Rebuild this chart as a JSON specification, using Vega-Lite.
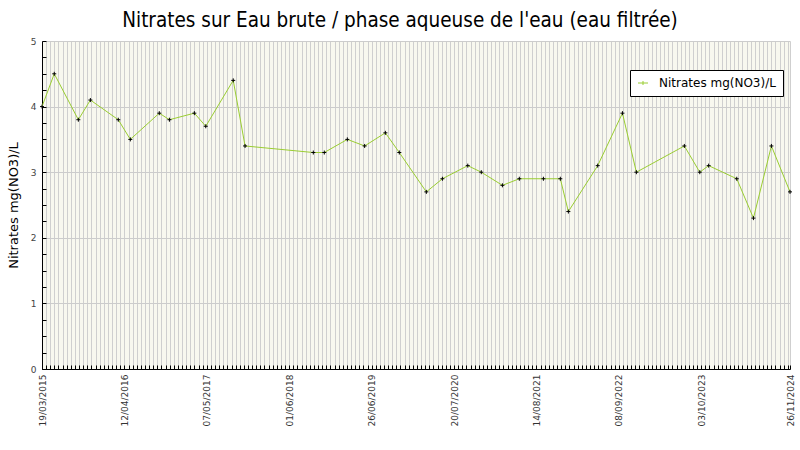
{
  "$schema": "https://vega.github.io/schema/vega-lite/v6.json",
  "width": 748,
  "height": 328,
  "autosize": {"type": "none"},
  "padding": {"left": 42, "top": 41, "right": 10, "bottom": 81},
  "background": "white",
  "title": {"text": "Nitrates sur Eau brute / phase aqueuse de l'eau (eau filtrée)", "font": "DejaVu Sans Condensed, DejaVu Sans", "fontSize": 20.5, "fontWeight": "normal", "color": "black", "anchor": "middle", "frame": "group", "dx": -16, "offset": 6},
  "data": {"values": [
    {"date": "2015-03-19", "value": 4.0},
    {"date": "2015-05-16", "value": 4.5},
    {"date": "2015-09-07", "value": 3.8},
    {"date": "2015-11-03", "value": 4.1},
    {"date": "2016-03-14", "value": 3.8},
    {"date": "2016-05-10", "value": 3.5},
    {"date": "2016-09-24", "value": 3.9},
    {"date": "2016-11-11", "value": 3.8},
    {"date": "2017-03-09", "value": 3.9},
    {"date": "2017-05-02", "value": 3.7},
    {"date": "2017-09-09", "value": 4.4},
    {"date": "2017-11-04", "value": 3.4},
    {"date": "2018-09-23", "value": 3.3},
    {"date": "2018-11-14", "value": 3.3},
    {"date": "2019-03-03", "value": 3.5},
    {"date": "2019-05-24", "value": 3.4},
    {"date": "2019-08-30", "value": 3.6},
    {"date": "2019-11-04", "value": 3.3},
    {"date": "2020-03-11", "value": 2.7},
    {"date": "2020-05-26", "value": 2.9},
    {"date": "2020-09-23", "value": 3.1},
    {"date": "2020-11-26", "value": 3.0},
    {"date": "2021-03-06", "value": 2.8},
    {"date": "2021-05-25", "value": 2.9},
    {"date": "2021-09-16", "value": 2.9},
    {"date": "2021-12-05", "value": 2.9},
    {"date": "2022-01-12", "value": 2.4},
    {"date": "2022-05-31", "value": 3.1},
    {"date": "2022-09-25", "value": 3.9},
    {"date": "2022-11-30", "value": 3.0},
    {"date": "2023-07-15", "value": 3.4},
    {"date": "2023-09-26", "value": 3.0},
    {"date": "2023-11-07", "value": 3.1},
    {"date": "2024-03-19", "value": 2.9},
    {"date": "2024-06-06", "value": 2.3},
    {"date": "2024-08-30", "value": 3.4},
    {"date": "2024-11-26", "value": 2.7}
  ]},
  "encoding": {
    "x": {
      "field": "date",
      "type": "temporal",
      "scale": {"type": "utc", "domain": [1426723200000, 1732579200000]},
      "axis": {
        "title": null,
        "values": [1426723200000,1428408000000,1430092800000,1431777600000,1433462400000,1435147200000,1436832000000,1438516800000,1440201600000,1441886400000,1443571200000,1445256000000,1446940800000,1448625600000,1450310400000,1451995200000,1453680000000,1455364800000,1457049600000,1458734400000,1460419200000,1462104000000,1463788800000,1465473600000,1467158400000,1468843200000,1470528000000,1472212800000,1473897600000,1475582400000,1477267200000,1478952000000,1480636800000,1482321600000,1484006400000,1485691200000,1487376000000,1489060800000,1490745600000,1492430400000,1494115200000,1495800000000,1497484800000,1499169600000,1500854400000,1502539200000,1504224000000,1505908800000,1507593600000,1509278400000,1510963200000,1512648000000,1514332800000,1516017600000,1517702400000,1519387200000,1521072000000,1522756800000,1524441600000,1526126400000,1527811200000,1529496000000,1531180800000,1532865600000,1534550400000,1536235200000,1537920000000,1539604800000,1541289600000,1542974400000,1544659200000,1546344000000,1548028800000,1549713600000,1551398400000,1553083200000,1554768000000,1556452800000,1558137600000,1559822400000,1561507200000,1563192000000,1564876800000,1566561600000,1568246400000,1569931200000,1571616000000,1573300800000,1574985600000,1576670400000,1578355200000,1580040000000,1581724800000,1583409600000,1585094400000,1586779200000,1588464000000,1590148800000,1591833600000,1593518400000,1595203200000,1596888000000,1598572800000,1600257600000,1601942400000,1603627200000,1605312000000,1606996800000,1608681600000,1610366400000,1612051200000,1613736000000,1615420800000,1617105600000,1618790400000,1620475200000,1622160000000,1623844800000,1625529600000,1627214400000,1628899200000,1630584000000,1632268800000,1633953600000,1635638400000,1637323200000,1639008000000,1640692800000,1642377600000,1644062400000,1645747200000,1647432000000,1649116800000,1650801600000,1652486400000,1654171200000,1655856000000,1657540800000,1659225600000,1660910400000,1662595200000,1664280000000,1665964800000,1667649600000,1669334400000,1671019200000,1672704000000,1674388800000,1676073600000,1677758400000,1679443200000,1681128000000,1682812800000,1684497600000,1686182400000,1687867200000,1689552000000,1691236800000,1692921600000,1694606400000,1696291200000,1697976000000,1699660800000,1701345600000,1703030400000,1704715200000,1706400000000,1708084800000,1709769600000,1711454400000,1713139200000,1714824000000,1716508800000,1718193600000,1719878400000,1721563200000,1723248000000,1724932800000,1726617600000,1728302400000,1729987200000,1731672000000,1732579200000],
        "labelExpr": "((+datum.value - 1426723200000) % 33696000000 === 0 && +datum.value < 1720000000000) || +datum.value === 1732579200000 ? utcFormat(+datum.value, '%d/%m/%Y') : ''",
        "labelAngle": 270,
        "labelOverlap": false,
        "labelFlush": false,
        "labelBound": false,
        "labelFontSize": 9,
        "labelColor": "#333333",
        "labelPadding": 9,
        "grid": true,
        "gridColor": "#cfcfcf",
        "gridWidth": 1,
        "tickSize": -4,
        "tickColor": "black",
        "domainColor": "black"
      }
    },
    "y": {
      "field": "value",
      "type": "quantitative",
      "scale": {"domain": [0, 5], "nice": false},
      "axis": {
        "title": "Nitrates mg(NO3)/L",
        "titleFontSize": 13,
        "titleFontWeight": "normal",
        "titleColor": "black",
        "titlePadding": 10,
        "values": [0,0.25,0.5,0.75,1,1.25,1.5,1.75,2,2.25,2.5,2.75,3,3.25,3.5,3.75,4,4.25,4.5,4.75,5],
        "labelExpr": "datum.value % 1 === 0 ? format(datum.value, 'd') : ''",
        "labelOverlap": false,
        "labelFontSize": 9,
        "labelColor": "#444444",
        "labelPadding": 10,
        "grid": true,
        "gridColor": "#cccccc",
        "gridOpacity": {"condition": {"test": "datum.value % 1 === 0", "value": 1}, "value": 0},
        "tickSize": -4,
        "tickColor": "black",
        "domainColor": "black"
      }
    }
  },
  "layer": [
    {
      "mark": {"type": "line", "strokeWidth": 1},
      "encoding": {
        "color": {
          "datum": "Nitrates mg(NO3)/L",
          "type": "nominal",
          "scale": {"range": ["#9acd32"]},
          "legend": {
            "orient": "none",
            "legendX": 588,
            "legendY": 29,
            "title": null,
            "strokeColor": "black",
            "fillColor": "white",
            "padding": 7,
            "labelFontSize": 12,
            "labelColor": "black",
            "symbolType": "M-1,0L1,0M0,-0.4L0,0.4",
            "symbolSize": 100,
            "symbolStrokeWidth": 1,
            "labelOffset": 10
          }
        }
      }
    },
    {
      "mark": {"type": "point", "shape": "M-1,0L1,0M0,-1L0,1", "size": 16, "filled": false, "color": "black", "strokeWidth": 1, "opacity": 1}
    }
  ],
  "config": {
    "view": {"stroke": null, "fill": "#f8f8ef"},
    "font": "DejaVu Sans",
    "axis": {"labelFont": "DejaVu Sans", "titleFont": "DejaVu Sans"},
    "legend": {"labelFont": "DejaVu Sans"}
  }
}
